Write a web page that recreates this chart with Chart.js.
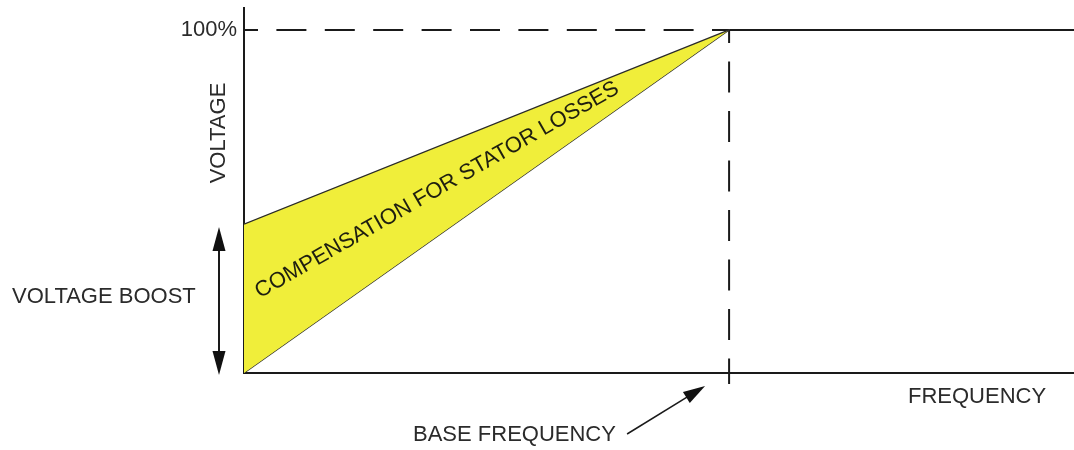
<!DOCTYPE html>
<html>
<head>
<meta charset="utf-8">
<script src="https://cdn.jsdelivr.net/npm/chart.js@4/dist/chart.umd.min.js"></script>
<style>
  html, body { margin: 0; padding: 0; background: #fff; }
  #wrap { width: 1074px; height: 450px; }
</style>
</head>
<body>
<div id="wrap"><canvas id="c" width="1074" height="450"></canvas></div>
<script>
// ---- data (frequency in % of base frequency, voltage in % of rated) ----
const freqPts      = [0, 100];          // start and base frequency
const upperVoltage = [43.4, 100];       // boosted V/f curve
const lowerVoltage = [0, 100];          // ideal linear V/f curve
const flatFreq     = [100, 171.1];      // constant voltage above base frequency
const flatVoltage  = [100, 100];
const yTickValues  = [100];
const yTickLabels  = ['100%'];
const boostRange   = [0, 43.4];
const xRange       = [0, 171.1];
const yRange       = [0, 106.4];

const FONT = '"Liberation Sans", Arial, sans-serif';
const TXT = '#2b2b2b';

const pts = (xs, ys) => xs.map((x, i) => ({ x: x, y: ys[i] }));

function arrowHead(ctx, x1, y1, x2, y2, len, half) {
  const a = Math.atan2(y2 - y1, x2 - x1);
  ctx.beginPath();
  ctx.moveTo(x2, y2);
  ctx.lineTo(x2 - len * Math.cos(a) + half * Math.sin(a), y2 - len * Math.sin(a) - half * Math.cos(a));
  ctx.lineTo(x2 - len * Math.cos(a) - half * Math.sin(a), y2 - len * Math.sin(a) + half * Math.cos(a));
  ctx.closePath();
  ctx.fill();
}

const annot = {
  id: 'annot',
  afterDatasetsDraw(chart) {
    const ctx = chart.ctx, xs = chart.scales.x, ys = chart.scales.y;
    const x0 = xs.getPixelForValue(0), bx = xs.getPixelForValue(100);
    const y0 = ys.getPixelForValue(0);
    ctx.save();
    ctx.fillStyle = TXT; ctx.strokeStyle = '#1a1a1a';
    ctx.font = '22px ' + FONT;

    // voltage boost double arrow
    const ax = x0 - 25;
    const yb0 = ys.getPixelForValue(boostRange[0]) + 2, yb1 = ys.getPixelForValue(boostRange[1]) + 3;
    ctx.lineWidth = 2;
    ctx.beginPath(); ctx.moveTo(ax, yb0 - 15); ctx.lineTo(ax, yb1 + 15); ctx.stroke();
    ctx.fillStyle = '#111';
    arrowHead(ctx, ax, yb0 - 30, ax, yb1, 24, 6.5);
    arrowHead(ctx, ax, yb1 + 30, ax, yb0, 24, 6.5);

    // base frequency arrow
    const tx = bx - 24, ty = y0 + 13, sx = bx - 102, sy = y0 + 61;
    ctx.lineWidth = 1.5;
    ctx.beginPath(); ctx.moveTo(sx, sy); ctx.lineTo(tx - 12, ty + 7.4); ctx.stroke();
    arrowHead(ctx, sx, sy, tx, ty, 22, 6.5);

    ctx.fillStyle = TXT;
    ctx.textBaseline = 'middle';
    ctx.textAlign = 'left';
    ctx.fillText('VOLTAGE BOOST', 12, 297);
    ctx.fillText('BASE FREQUENCY', 413, y0 + 62);
    ctx.fillText('FREQUENCY', 908, y0 + 24);

    // VOLTAGE (vertical)
    ctx.save();
    ctx.translate(219, 133);
    ctx.rotate(-Math.PI / 2);
    ctx.textAlign = 'center';
    ctx.fillText('VOLTAGE', 0, 0);
    ctx.restore();

    // compensation label along the wedge
    ctx.save();
    ctx.translate(437, 190);
    ctx.rotate(-29.8 * Math.PI / 180);
    ctx.textAlign = 'center';
    ctx.fillStyle = '#1e1e10';
    ctx.fillText('COMPENSATION FOR STATOR LOSSES', 0, 0);
    ctx.restore();

    ctx.restore();
  }
};

new Chart(document.getElementById('c'), {
  type: 'scatter',
  data: {
    datasets: [
      { data: pts(freqPts, upperVoltage), showLine: true, borderColor: '#2a2a2a', borderWidth: 1.3,
        backgroundColor: '#f0ee3a', fill: 1, pointRadius: 0 },
      { data: pts(freqPts, lowerVoltage), showLine: true, borderColor: '#2a2a2a', borderWidth: 1.3,
        fill: false, pointRadius: 0 },
      { data: pts([0, 100], [100, 100]), showLine: true, borderColor: '#1a1a1a', borderWidth: 2,
        borderDash: [30, 18.4], borderDashOffset: 16, fill: false, pointRadius: 0 },
      { data: pts([100, 100], [100, -3.2]), showLine: true, borderColor: '#1a1a1a', borderWidth: 2,
        borderDash: [31, 18.5], borderDashOffset: 18, fill: false, pointRadius: 0, clip: false },
      { data: pts(flatFreq, flatVoltage), showLine: true, borderColor: '#1a1a1a', borderWidth: 2,
        fill: false, pointRadius: 0, clip: false }
    ]
  },
  options: {
    responsive: false,
    animation: false,
    events: [],
    layout: { padding: { top: 8, left: 0, right: 0, bottom: 0 } },
    plugins: { legend: { display: false }, tooltip: { enabled: false } },
    scales: {
      x: {
        type: 'linear', min: xRange[0], max: xRange[1],
        grid: { display: false, drawTicks: false },
        border: { display: true, color: '#1a1a1a', width: 2 },
        ticks: { display: false },
        afterFit(s) { s.height = 77; s.paddingLeft = 0; s.paddingRight = 0; }
      },
      y: {
        type: 'linear', min: yRange[0], max: yRange[1],
        grid: { display: false, drawTicks: false },
        border: { display: true, color: '#1a1a1a', width: 2 },
        afterBuildTicks(s) { s.ticks = yTickValues.map(v => ({ value: v })); },
        ticks: {
          padding: 7, color: TXT,
          font: { family: FONT, size: 22 },
          callback: (v) => yTickLabels[yTickValues.indexOf(v)] || ''
        },
        afterFit(s) { s.width = 244; s.paddingTop = 0; s.paddingBottom = 0; }
      }
    }
  },
  plugins: [annot]
});
</script>
</body>
</html>
